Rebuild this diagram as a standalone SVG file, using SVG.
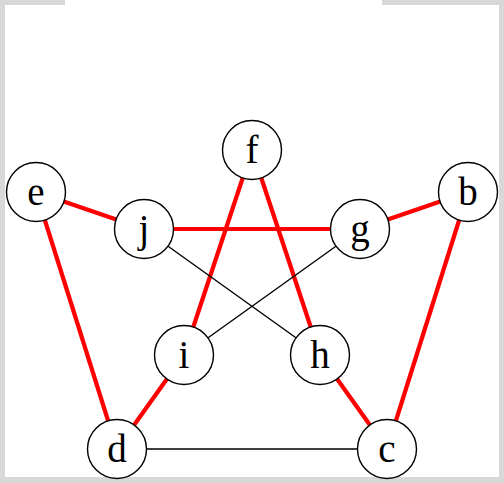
<svg xmlns="http://www.w3.org/2000/svg" width="504" height="483" viewBox="0 0 504 483">
<style>
.frame{fill:#d8d8d8}
.r{stroke:#ff0000;stroke-width:4.2;fill:none}
.k{stroke:#000;stroke-width:1.4;fill:none}
.node circle{fill:#fff;stroke:#000;stroke-width:1.4}
.node text{font-family:"Liberation Serif","DejaVu Serif",serif;font-size:39px;text-anchor:middle;fill:#000}
</style>
<rect x="0" y="0" width="504" height="483" fill="#fff"/>
<g id="frame">
<rect class="frame" x="0" y="0" width="5" height="483"/>
<rect class="frame" x="499" y="0" width="5" height="483"/>
<rect class="frame" x="0" y="0" width="65" height="5"/>
<rect class="frame" x="382" y="0" width="122" height="5"/>
<rect class="frame" x="0" y="477" width="504" height="6"/>
</g>
<g id="connectors">
<line class="r" x1="36" y1="192" x2="144" y2="229"/>
<line class="r" x1="144" y1="229" x2="360" y2="229"/>
<line class="r" x1="360" y1="229" x2="468" y2="192"/>
<line class="r" x1="36" y1="192" x2="117" y2="449"/>
<line class="r" x1="468" y1="192" x2="387" y2="449"/>
<line class="r" x1="252" y1="150" x2="184" y2="355"/>
<line class="r" x1="252" y1="150" x2="320" y2="355"/>
<line class="r" x1="184" y1="355" x2="117" y2="449"/>
<line class="r" x1="320" y1="355" x2="387" y2="449"/>
<line class="k" x1="144" y1="229" x2="320" y2="355"/>
<line class="k" x1="360" y1="229" x2="184" y2="355"/>
<line class="k" x1="117" y1="449" x2="387" y2="449"/>
</g>
<g id="node-e" class="node"><circle cx="36" cy="192" r="29.5"/><text x="36" y="205">e</text></g>
<g id="node-j" class="node"><circle cx="144" cy="229" r="29.5"/><text x="144" y="242">j</text></g>
<g id="node-f" class="node"><circle cx="252" cy="150" r="29.5"/><text x="252" y="163">f</text></g>
<g id="node-g" class="node"><circle cx="360" cy="229" r="29.5"/><text x="360" y="242">g</text></g>
<g id="node-b" class="node"><circle cx="468" cy="192" r="29.5"/><text x="468" y="205">b</text></g>
<g id="node-i" class="node"><circle cx="184" cy="355" r="29.5"/><text x="184" y="368">i</text></g>
<g id="node-h" class="node"><circle cx="320" cy="355" r="29.5"/><text x="320" y="368">h</text></g>
<g id="node-d" class="node"><circle cx="117" cy="449" r="29.5"/><text x="117" y="462">d</text></g>
<g id="node-c" class="node"><circle cx="387" cy="449" r="29.5"/><text x="387" y="462">c</text></g>
</svg>
